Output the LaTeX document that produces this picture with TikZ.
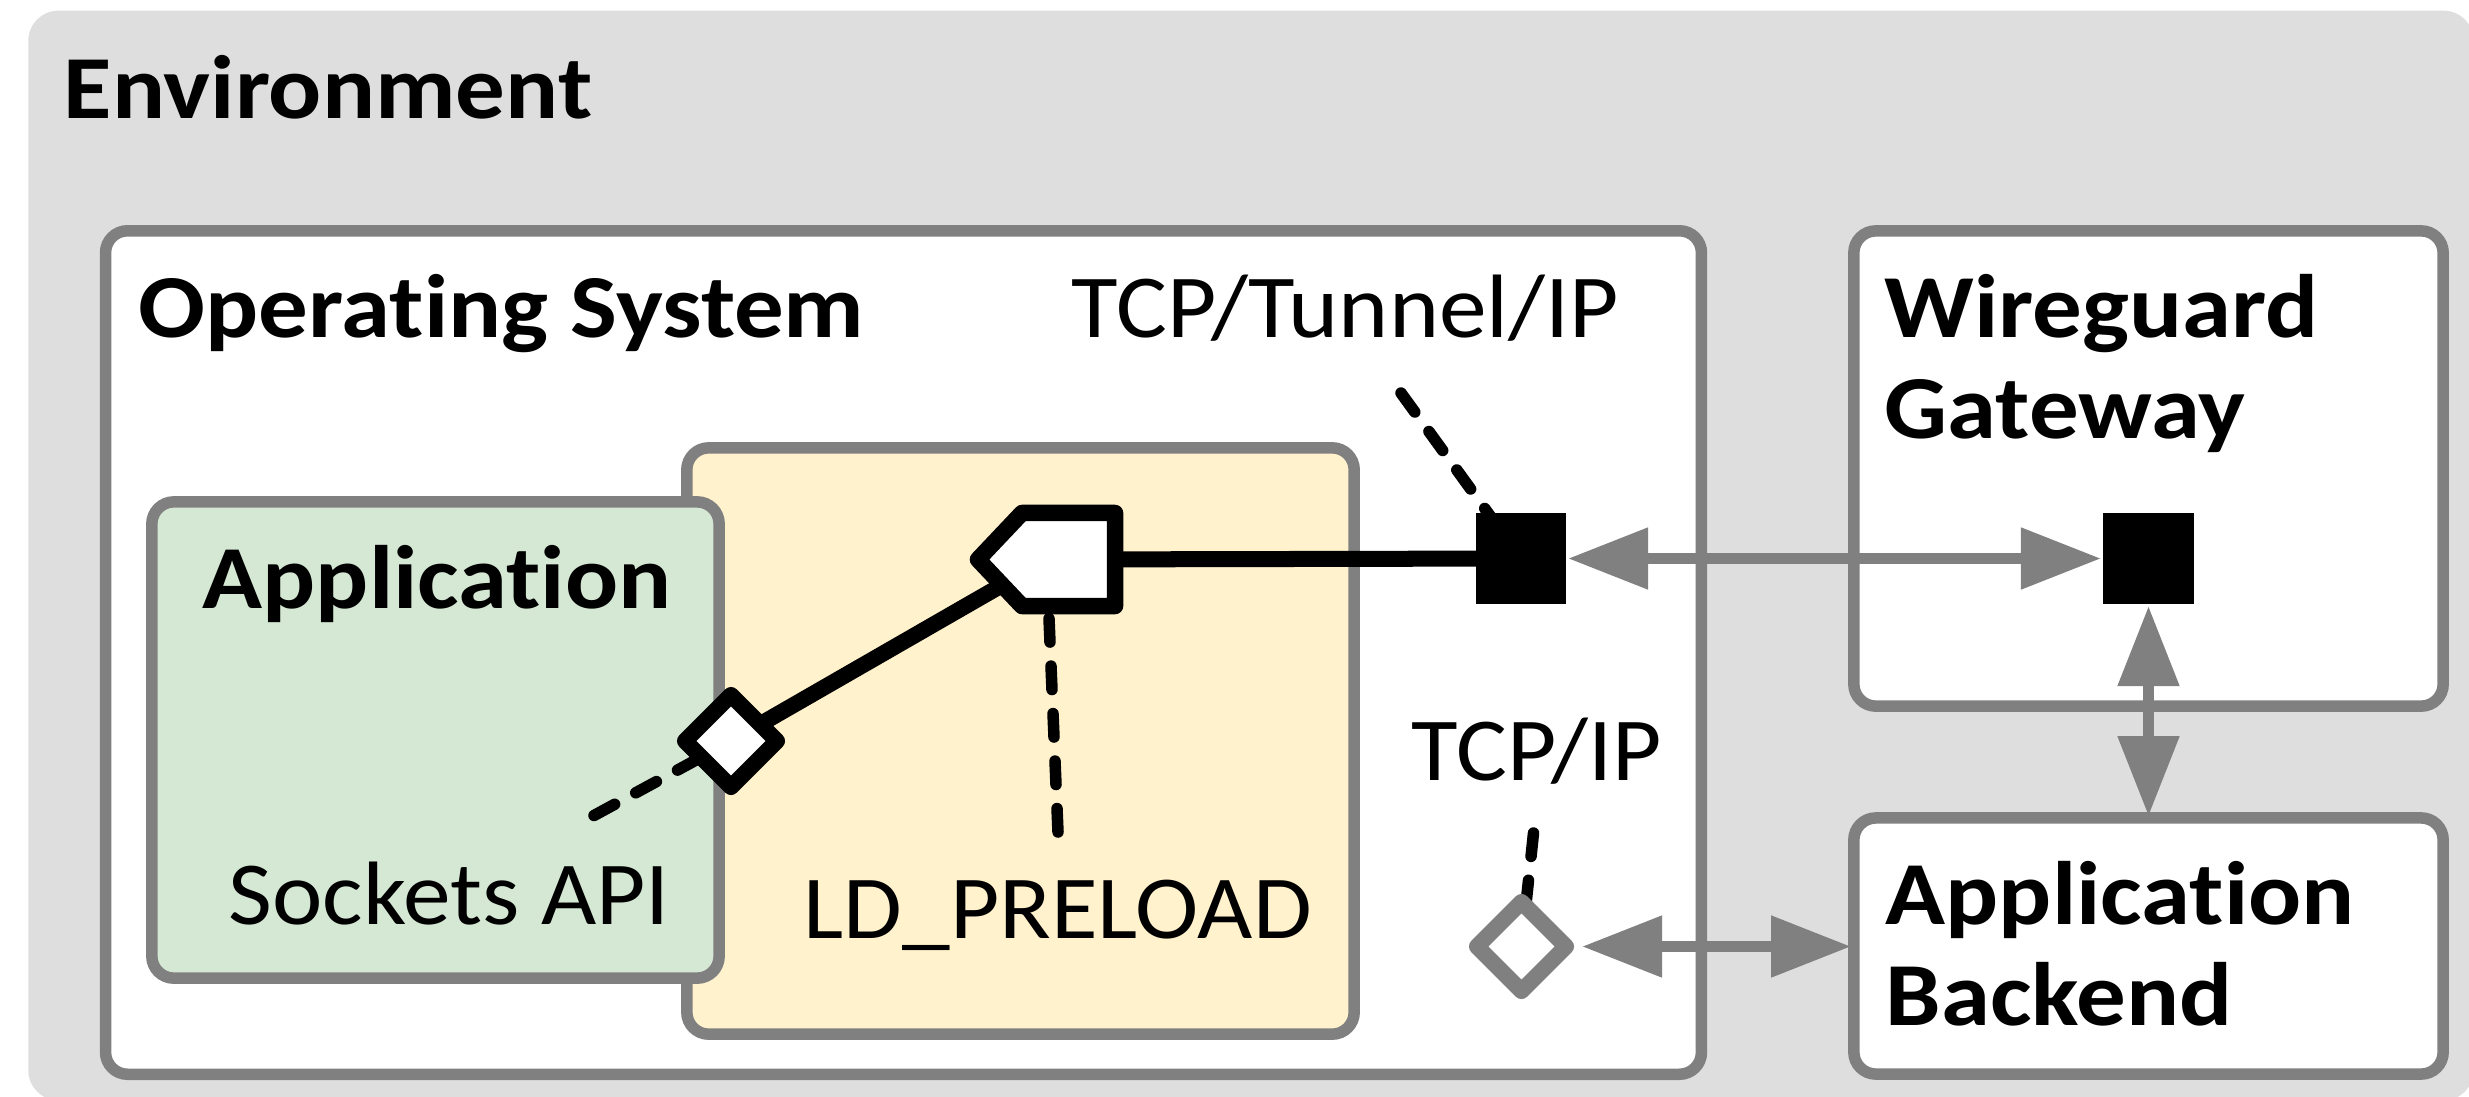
\documentclass[tikz,border=0pt]{standalone}
\usepackage{fontspec}
\setmainfont{Carlito}[FakeStretch=1.06, Ligatures=NoCommon, BoldFeatures={FakeStretch=1.10}]
\usetikzlibrary{arrows.meta,shapes.geometric,calc}

\definecolor{envgray}{HTML}{DEDEDE}
\definecolor{edgegray}{HTML}{808080}
\definecolor{appgreen}{HTML}{D5E8D4}
\definecolor{preyellow}{HTML}{FFF2CC}

\pgfdeclarelayer{boxes}
\pgfdeclarelayer{links}
\pgfsetlayers{boxes,links,main}

\tikzset{
  envbox/.style={fill=envgray, draw=none, rounded corners=0.30cm, inner sep=0pt, outer sep=0pt},
  box/.style={draw=edgegray, line width=0.115cm, rounded corners=0.22cm, fill=white, inner sep=0pt},
  blackport/.style={fill=black, draw=none, inner sep=0pt, outer sep=0.02cm},
  diaport/.style={diamond, fill=white, line width=0.16cm, line join=round, inner sep=0pt, outer sep=0pt},
  penta/.style={fill=white, draw=black, line width=0.165cm, line join=round},
  title/.style={font=\bfseries\fontsize{25.6}{28.7}\selectfont, anchor=base west, inner sep=0pt, align=left},
  plain/.style={font=\fontsize{25.6}{28.7}\selectfont, anchor=base west, inner sep=0pt},
  wire/.style={draw=black, line width=0.16cm},
  tagline/.style={draw=black, line width=0.115cm, line cap=round, dash pattern=on 0.235cm off 0.24cm},
  garrow/.style={draw=edgegray, line width=0.115cm,
    {Triangle[length=0.80cm,width=0.59cm]}-{Triangle[length=0.80cm,width=0.59cm]}},
}

\begin{document}
\begin{tikzpicture}[x=0.01cm, y=-0.01cm]
\useasboundingbox (0,0) rectangle (2469,1096);

% containers
\begin{pgfonlayer}{boxes}
  \node[envbox, minimum width=24.44cm, minimum height=10.89cm] (env) at (1251,555.5) {};
  \node[box, minimum width=15.95cm, minimum height=8.43cm] (os) at (903.5,652.5) {};
  \node[box, minimum width=5.89cm, minimum height=4.75cm] (gw) at (2148.5,468.5) {};
  \node[box, minimum width=5.89cm, minimum height=2.56cm] (be) at (2148.5,946) {};
  \node[box, fill=preyellow, minimum width=6.67cm, minimum height=5.86cm] (ld) at (1020.5,741) {};
  \node[box, fill=appgreen, minimum width=5.67cm, minimum height=4.76cm] (app) at (435.5,740) {};
\end{pgfonlayer}

% ports
\node[blackport, minimum width=0.90cm, minimum height=0.91cm] (tun) at (1521,558.5) {};
\node[blackport, minimum width=0.91cm, minimum height=0.91cm] (gws) at (2148.5,558.5) {};
\node[diaport, draw=black, minimum width=0.92cm, minimum height=0.92cm] (sock) at (731,741) {};
\node[diaport, draw=edgegray, minimum width=0.89cm, minimum height=0.89cm] (tcpd) at (1521.5,946.5) {};
\node[inner sep=0pt, outer sep=0pt, minimum width=1.37cm, minimum height=0.93cm] (ldp) at (1046.5,559.5) {};
\draw[penta] (ldp.north east) -- (ldp.south east) -- ([xshift=0.44cm]ldp.south west)
  -- (ldp.west) -- ([xshift=0.44cm]ldp.north west) -- cycle;

% free ends of the annotation lines
\coordinate (tuntag) at (1401,393);
\coordinate (ldtag) at (1058,832);
\coordinate (socktag) at (594,815.5);
\coordinate (tcptag) at (1533.5,833);

% connectors
\begin{pgfonlayer}{links}
  \draw[wire] (sock.center) -- (ldp.center);
  \draw[wire] (ldp.center) -- (tun.center);
  \draw[garrow] (tun.east) -- (gws.west);
  \draw[garrow, shorten >=-0.04cm] (gws.south) -- (be.north);
  \draw[garrow, shorten <=0.16cm, shorten >=-0.03cm] (tcpd.east) -- (tcpd.east -| be.west);
  \draw[tagline] (tuntag) -- (tun.center);
  \draw[tagline] (ldtag) -- (ldp.center);
  \draw[tagline] (socktag) -- (sock.center);
  \draw[tagline] (tcptag) -- (tcpd.center);
\end{pgfonlayer}

% labels (multi-line labels are placed by their last baseline)
\node[title] (envlbl) at (63,118) {Environment};
\node[title] (oslbl) at (138,337) {Operating System};
\node[title] (gwlbl) at (1884,438) {Wireguard\\Gateway};
\node[title] (applbl) at (202,608) {Application};
\node[title] (belbl) at (1885,1025) {Application\\Backend};
\node[plain] (tunlbl) at (1071,337) {TCP/Tunnel/IP};
\node[plain] (socklbl) at (228,924) {Sockets API};
\node[plain] (ldlbl) at (803,938) {LD\_PRELOAD};
\node[plain] (tcplbl) at (1411,780) {TCP/IP};
\end{tikzpicture}
\end{document}
